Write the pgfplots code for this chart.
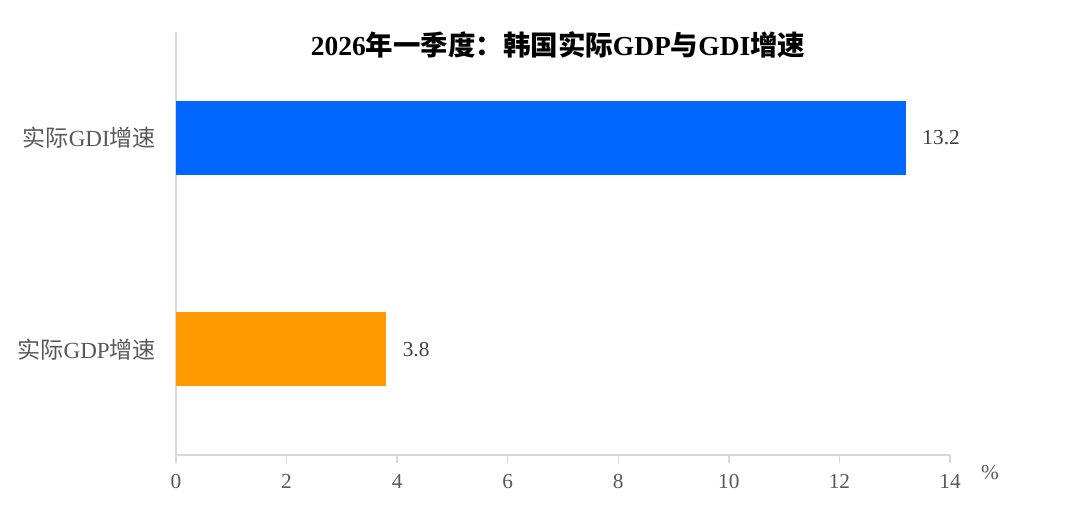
\documentclass[border=0pt]{standalone}
\usepackage{fontspec}
\setmainfont{Liberation Serif}
\newfontfamily\cjk{Noto Sans CJK SC}
\usepackage{pgfplots}
\pgfplotsset{compat=1.18}
\definecolor{gdi}{HTML}{0066FF}
\definecolor{gdp}{HTML}{FF9900}
\definecolor{axgrey}{HTML}{D9D9D9}
\definecolor{lblgrey}{HTML}{595959}
\definecolor{valgrey}{HTML}{404040}
\begin{document}
\begin{tikzpicture}
\useasboundingbox (0pt,0pt) rectangle (810pt,383.25pt);
\begin{axis}[
  at={(132pt,42pt)}, anchor=south west,
  scale only axis, width=580.5pt, height=317.25pt,
  xbar, bar width=55.5pt, bar shift=0pt,
  xmin=0, xmax=14, ymin=0.5, ymax=2.5,
  xtick={0,2,...,14}, ytick={1,2},
  yticklabels={{\cjk 实际}GDP{\cjk 增速},{\cjk 实际}GDI{\cjk 增速}},
  axis x line*=bottom, axis y line*=left,
  axis line style={axgrey, line width=1pt},
  x tick style={axgrey, line width=1pt},
  xtick align=outside, major tick length=6pt,
  y tick style={draw=none},
  /pgf/number format/assume math mode=true,
  xticklabel style={font=\fontsize{16}{19}\selectfont, text=lblgrey, yshift=-5pt},
  yticklabel style={font=\fontsize{17.3}{20}\selectfont, text=lblgrey, xshift=-5.5pt},
  nodes near coords,
  nodes near coords style={font=\fontsize{16}{19}\selectfont, text=valgrey, anchor=west, xshift=9pt,
    /pgf/number format/.cd, fixed, fixed zerofill, precision=1},
]
\addplot[fill=gdp, draw=none] coordinates {(3.8,1)};
\addplot[fill=gdi, draw=none] coordinates {(13.2,2)};
\end{axis}
\node[font=\fontsize{16}{19}\selectfont, text=lblgrey] at (742.5pt,28.5pt) {\%};
\node[font=\fontsize{20.6}{24}\selectfont\bfseries] at (418.5pt,349.5pt) {2026{\cjk 年一季度：韩国实际}GDP{\cjk 与}GDI{\cjk 增速}};
\end{tikzpicture}
\end{document}
